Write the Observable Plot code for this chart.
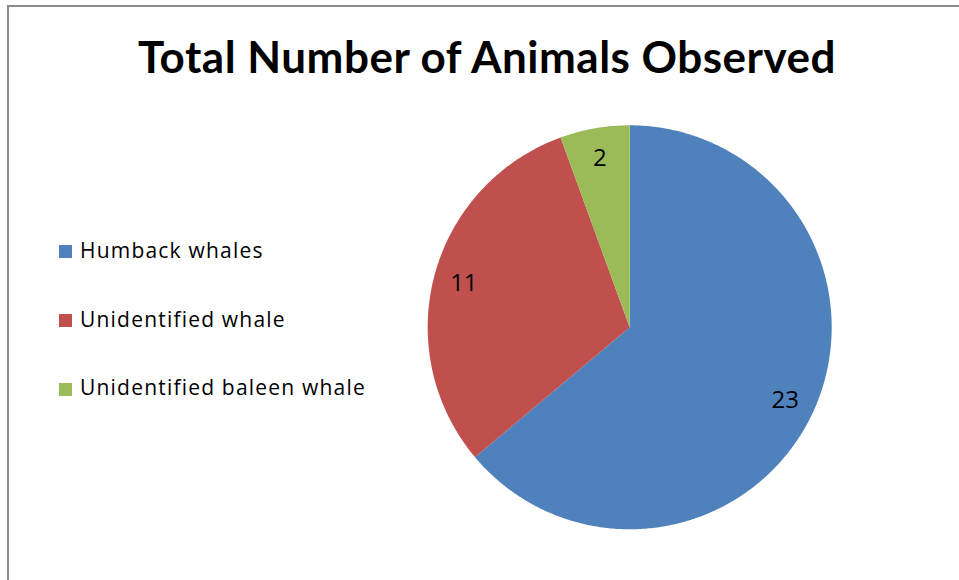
<!DOCTYPE html>
<html>
<head>
<meta charset="utf-8">
<script src="https://cdn.jsdelivr.net/npm/d3@7"></script>
<script src="https://cdn.jsdelivr.net/npm/@observablehq/plot@0.6"></script>
<style>
  html, body { margin: 0; padding: 0; background: #fff; }
  #wrap { position: relative; width: 959px; height: 580px; overflow: hidden; }
  #frame { position: absolute; left: 7px; top: 5px; width: 1000px; height: 1000px;
           border-left: 2px solid #8a8a8a; border-top: 2px solid #8a8a8a; box-sizing: border-box; }
  #title { position: absolute; left: 138px; top: 34px; white-space: nowrap; line-height: 44px;
           font-family: Lato, "Open Sans", sans-serif; font-weight: bold; font-size: 44px;
           letter-spacing: 0.5px; color: #000; }
  #legend { position: absolute; left: 58.5px; top: 240.1px; font-family: "Open Sans", Lato, sans-serif;
            font-size: 21px; line-height: 20px; letter-spacing: 1.2px; color: #000; }
  .item { height: 68.7px; display: flex; align-items: flex-start; white-space: nowrap; }
  .sw { width: 13.5px; height: 13px; margin-right: 8px; margin-top: 5.2px; flex: none; }
  svg { position: absolute; left: 0; top: 0; }
</style>
</head>
<body>
<div id="wrap">
  <div id="frame"></div>
  <div id="chart"></div>
  <div id="title"></div>
  <div id="legend"></div>
</div>
<script>
const title = "Total Number of Animals Observed";
const categories = ["Humback whales", "Unidentified whale", "Unidentified baleen whale"];
const counts = [23, 11, 2];
const colors = ["#4F81BD", "#C0504D", "#9BBB59"];

document.getElementById("title").textContent = title;
const legend = document.getElementById("legend");
categories.forEach((c, i) => {
  const row = document.createElement("div");
  row.className = "item";
  const sw = document.createElement("div");
  sw.className = "sw";
  sw.style.background = colors[i];
  const t = document.createElement("span");
  t.textContent = c;
  row.appendChild(sw); row.appendChild(t);
  legend.appendChild(row);
});

// Pie layout: start at 12 o'clock, clockwise, in data order
const arcs = d3.pie().sort(null).value(d => d)(counts);
const wedgePts = [];
const labels = [];
arcs.forEach((a, i) => {
  const n = Math.max(2, Math.ceil((a.endAngle - a.startAngle) / 0.01));
  wedgePts.push({name: categories[i], px: 0, py: 0});
  for (let k = 0; k <= n; k++) {
    const t = a.startAngle + (a.endAngle - a.startAngle) * k / n;
    wedgePts.push({name: categories[i], px: Math.sin(t), py: Math.cos(t)});
  }
  wedgePts.push({name: categories[i], px: 0, py: 0});
  const m = (a.startAngle + a.endAngle) / 2;
  labels.push({name: categories[i], value: counts[i], px: 0.85 * Math.sin(m), py: 0.85 * Math.cos(m)});
});

const plot = Plot.plot({
  width: 959,
  height: 580,
  marginLeft: 427.2,
  marginRight: 127.8,
  marginTop: 124.8,
  marginBottom: 51.2,
  x: {domain: [-1, 1], axis: null},
  y: {domain: [-1, 1], axis: null},
  color: {domain: categories, range: colors},
  style: {background: "transparent"},
  marks: [
    Plot.line(wedgePts, {x: "px", y: "py", z: "name", fill: "name", stroke: "none", curve: "linear"}),
    Plot.text(labels, {x: "px", y: "py", text: "value", fill: "#000", fontSize: 24,
      fontFamily: "'Open Sans', Lato, sans-serif"})
  ]
});
document.getElementById("chart").appendChild(plot);
</script>
</body>
</html>
